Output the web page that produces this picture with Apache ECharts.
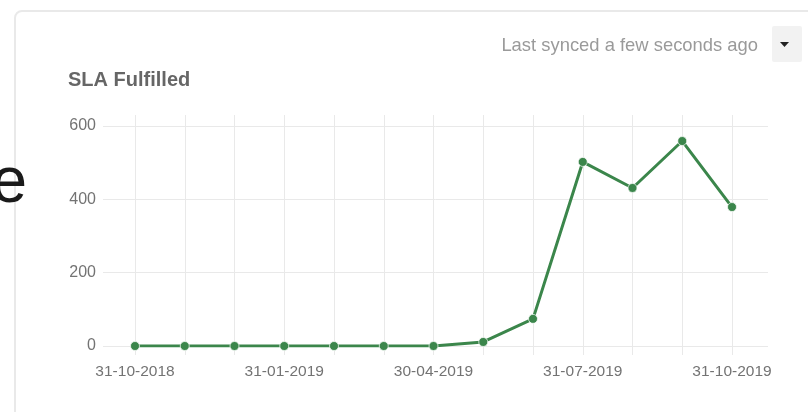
<!DOCTYPE html>
<html>
<head>
<meta charset="utf-8">
<script src="https://cdn.jsdelivr.net/npm/echarts@6/dist/echarts.min.js"></script>
<style>
html,body{margin:0;padding:0;background:#fff;}
#chart{width:808px;height:412px;}
</style>
</head>
<body>
<div id="chart"></div>
<script>
// ---- data ----
const categories = ['31-10-2018','30-11-2018','31-12-2018','31-01-2019','28-02-2019','31-03-2019','30-04-2019','31-05-2019','30-06-2019','31-07-2019','31-08-2019','30-09-2019','31-10-2019'];
const slaFulfilled = [0, 0, 0, 0, 0, 0, 0, 11, 74, 502, 431, 559, 379];
const yTicks = [0, 200, 400, 600];
const titleText = 'SLA Fulfilled';
const syncText = 'Last synced a few seconds ago';

const gridColor = '#e9e9e9';
const lineColor = '#3b864b';
const labelColor = '#737373';
const font = 'Liberation Sans, Arial, sans-serif';

const chart = echarts.init(document.getElementById('chart'), null, {renderer: 'canvas'});
chart.setOption({
  animation: false,
  backgroundColor: '#fff',
  grid: [
    {left: 103, right: 40, top: 126, height: 220},
    {left: 135, right: 76, top: 126, height: 220}
  ],
  xAxis: [
    {gridIndex: 0, type: 'value', min: 0, max: 1, show: false},
    {
      gridIndex: 1, type: 'category', data: categories, boundaryGap: false,
      axisLine: {show: false},
      axisTick: {show: true, length: 9, interval: 0, lineStyle: {color: gridColor, width: 1}},
      splitLine: {show: true, interval: 0, lineStyle: {color: gridColor, width: 1}},
      axisLabel: {interval: 2, margin: 18, fontSize: 15.5, color: labelColor, fontFamily: font}
    },
    {
      gridIndex: 1, type: 'category', data: categories, boundaryGap: false, position: 'top',
      axisLine: {show: false},
      axisTick: {show: true, length: 11, interval: 0, lineStyle: {color: gridColor, width: 1}},
      splitLine: {show: false},
      axisLabel: {show: false}
    }
  ],
  yAxis: [
    {
      gridIndex: 0, type: 'value', min: yTicks[0], max: yTicks[yTicks.length - 1], interval: yTicks[1] - yTicks[0],
      axisLine: {show: false}, axisTick: {show: false},
      splitLine: {show: true, lineStyle: {color: gridColor, width: 1}},
      axisLabel: {margin: 7, fontSize: 16, color: labelColor, fontFamily: font}
    },
    {gridIndex: 1, type: 'value', min: yTicks[0], max: yTicks[yTicks.length - 1], show: false}
  ],
  series: [{
    type: 'line',
    xAxisIndex: 1, yAxisIndex: 1,
    data: slaFulfilled,
    symbol: 'circle', symbolSize: 9,
    lineStyle: {color: lineColor, width: 3},
    itemStyle: {color: lineColor, borderColor: 'rgba(255,255,255,0.7)', borderWidth: 1},
    z: 5
  }],
  graphic: [
    {type: 'rect', z: -10, shape: {x: 15, y: 11, width: 830, height: 430, r: 7},
     style: {fill: 'none', stroke: '#e9e9e9', lineWidth: 2}},
    {type: 'text', x: 68, y: 80, z: 10,
     style: {text: titleText, font: 'bold 20px ' + font, fill: '#666', textVerticalAlign: 'middle', verticalAlign: 'middle'}},
    {type: 'text', x: 758, y: 46, z: 10,
     style: {text: syncText, font: '18.4px ' + font, fill: '#9a9a9a', align: 'right', textAlign: 'right', textVerticalAlign: 'middle', verticalAlign: 'middle'}},
    {type: 'rect', z: 10, shape: {x: 772, y: 26, width: 30, height: 36, r: 2},
     style: {fill: '#f2f2f2'}},
    {type: 'polygon', z: 11, shape: {points: [[780, 42], [789, 42], [784.5, 47]]},
     style: {fill: '#222'}},
    {type: 'text', x: 27, y: 184, z: 20,
     style: {text: 'e', font: '64px ' + font, fill: '#1a1a1a', align: 'right', textAlign: 'right', textVerticalAlign: 'middle', verticalAlign: 'middle'}}
  ]
});
</script>
</body>
</html>
